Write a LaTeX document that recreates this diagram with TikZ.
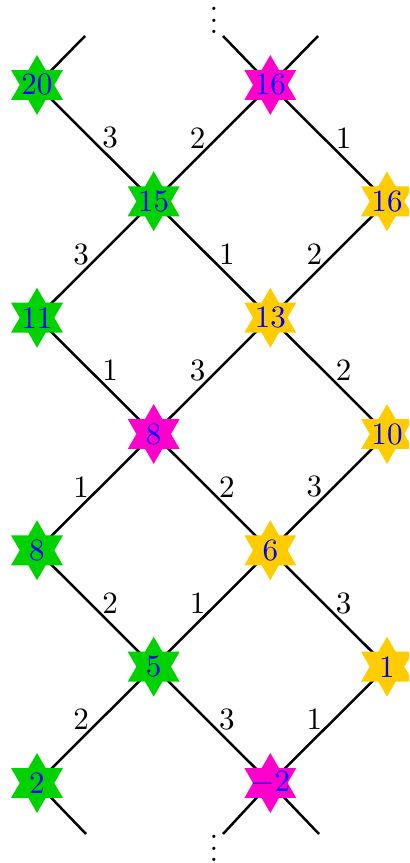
\documentclass[tikz,border=0pt]{standalone}
\usetikzlibrary{shapes.geometric,backgrounds}
\definecolor{sgreen}{RGB}{0,210,0}
\definecolor{smag}{RGB}{255,0,204}
\definecolor{syel}{RGB}{255,204,0}
\newcommand{\myvdots}{\vbox{\baselineskip3.7pt\lineskiplimit0pt\hbox{.}\hbox{.}\hbox{.}}}
\begin{document}
\begin{tikzpicture}[x=0.322pt,y=-0.322pt,
  st/.style={star, star points=6, star point ratio=1.732, minimum size=19.3pt, inner sep=0pt, draw=none, fill=#1},
  num/.style={text=blue, inner sep=0pt},
  edge/.style={draw=black, thick},
  dr/.style={midway, xshift=4.8pt, yshift=1.7pt, inner sep=0pt},
  ur/.style={midway, xshift=-4.6pt, yshift=1.7pt, inner sep=0pt}]
\useasboundingbox (0,0) rectangle (409,863);
\clip (0,0) rectangle (409,863);
% nodes
\node[st=sgreen, label={[num]center:20}] (a20) at (37,85) {};
\node[st=smag,   label={[num]center:16}] (m16) at (270.3,85) {};
\node[st=sgreen, label={[num]center:15}] (a15) at (153.7,201.3) {};
\node[st=syel,   label={[num]center:16}] (y16) at (387,201.3) {};
\node[st=sgreen, label={[num]center:11}] (a11) at (37,317.7) {};
\node[st=syel,   label={[num]center:13}] (y13) at (270.3,317.7) {};
\node[st=smag,   label={[num]center:8}]  (m8)  at (153.7,434) {};
\node[st=syel,   label={[num]center:10}] (y10) at (387,434) {};
\node[st=sgreen, label={[num]center:8}]  (a8)  at (37,550.3) {};
\node[st=syel,   label={[num]center:6}]  (y6)  at (270.3,550.3) {};
\node[st=sgreen, label={[num]center:5}]  (a5)  at (153.7,666.7) {};
\node[st=syel,   label={[num]center:1}]  (y1)  at (387,666.7) {};
\node[st=sgreen, label={[num]center:2}]  (a2)  at (37,783) {};
\node[st=smag,   label={[num]center:$-2$}] (mm2) at (270.3,783) {};
% stub ends
\coordinate (t1) at (85,36);
\coordinate (t2) at (223,36);
\coordinate (t3) at (318,36);
\coordinate (b1) at (86,834);
\coordinate (b2) at (223,834);
\coordinate (b3) at (319,834);
% dots
\node[anchor=base, inner sep=0pt] (vt) at (214,33.7) {\myvdots};
\node[anchor=base, inner sep=0pt] (vb) at (214,861.7) {\myvdots};
\begin{scope}[on background layer]
\draw[edge] (a20.center) -- (t1);
\draw[edge] (m16.center) -- (t2);
\draw[edge] (m16.center) -- (t3);
\draw[edge] (a2.center) -- (b1);
\draw[edge] (mm2.center) -- (b2);
\draw[edge] (mm2.center) -- (b3);
\draw[edge] (a20.center) -- node[dr]{3} (a15.center);
\draw[edge] (a15.center) -- node[ur]{2} (m16.center);
\draw[edge] (m16.center) -- node[dr]{1} (y16.center);
\draw[edge] (a11.center) -- node[ur]{3} (a15.center);
\draw[edge] (a15.center) -- node[dr]{1} (y13.center);
\draw[edge] (y13.center) -- node[ur]{2} (y16.center);
\draw[edge] (a11.center) -- node[dr]{1} (m8.center);
\draw[edge] (m8.center) -- node[ur]{3} (y13.center);
\draw[edge] (y13.center) -- node[dr]{2} (y10.center);
\draw[edge] (a8.center) -- node[ur]{1} (m8.center);
\draw[edge] (m8.center) -- node[dr]{2} (y6.center);
\draw[edge] (y6.center) -- node[ur]{3} (y10.center);
\draw[edge] (a8.center) -- node[dr]{2} (a5.center);
\draw[edge] (a5.center) -- node[ur]{1} (y6.center);
\draw[edge] (y6.center) -- node[dr]{3} (y1.center);
\draw[edge] (a2.center) -- node[ur]{2} (a5.center);
\draw[edge] (a5.center) -- node[dr]{3} (mm2.center);
\draw[edge] (mm2.center) -- node[ur]{1} (y1.center);
\end{scope}
\end{tikzpicture}
\end{document}
